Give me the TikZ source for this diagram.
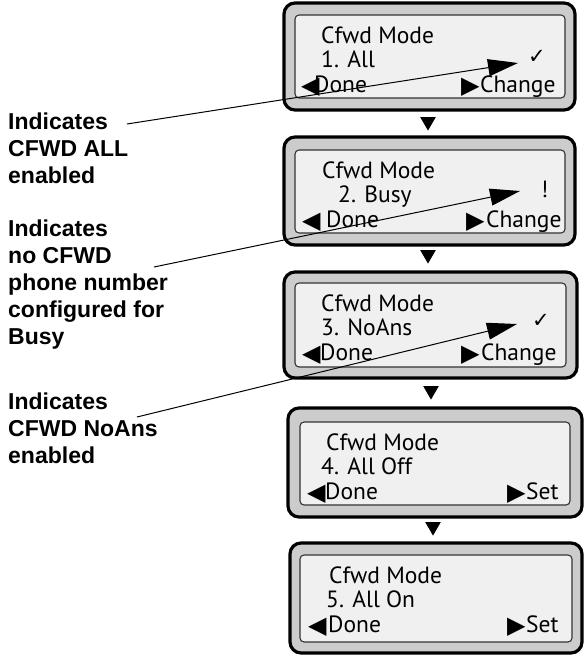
\documentclass[tikz,border=0pt]{standalone}
\usepackage{fontspec}
\setmainfont{PT Sans}
\newfontfamily\notefont{Liberation Sans}
\newfontfamily\symfont{DejaVu Sans}
\usetikzlibrary{arrows.meta,shapes.geometric}

\begin{document}
\begin{tikzpicture}[x=1pt,y=-1pt,
  frame/.style={draw=black, line width=3.2pt, fill=black!20, rounded corners=11pt,
    inner sep=0, outer sep=0},
  lcd/.style={draw=black!80, line width=1.1pt, fill=black!6, rounded corners=4pt,
    inner sep=0, outer sep=0},
  scr/.style={anchor=base west, inner sep=0, font=\fontsize{23.5}{25}\selectfont},
  key/.style={anchor=base west, inner sep=0, font=\symfont\fontsize{24}{24}\selectfont},
  indic/.style={anchor=base west, inner sep=0, font=\symfont\fontsize{21}{21}\selectfont},
  note/.style={anchor=base west, inner sep=0, align=left,
    font=\notefont\bfseries\fontsize{23}{27}\selectfont},
  callout/.style={line width=1pt, -{Triangle[length=30pt,width=17pt]}},
  nextstep/.style={fill=black, regular polygon, regular polygon sides=3,
    shape border rotate=180, minimum size=18pt, inner sep=0, outer sep=0}]
\useasboundingbox (0,0) rectangle (584,657);

% display frames and LCD panels
\node[frame, minimum width=291pt, minimum height=107pt] (f1) at (429.5,56.5) {};
\node[lcd, minimum width=270pt, minimum height=83pt] (p1) at (430,56.5) {};
\node[frame, minimum width=291pt, minimum height=108pt] (f2) at (429.5,191) {};
\node[lcd, minimum width=270pt, minimum height=83pt] (p2) at (430,191.5) {};
\node[frame, minimum width=293pt, minimum height=106pt] (f3) at (430.5,325) {};
\node[lcd, minimum width=271pt, minimum height=84pt] (p3) at (430.5,325) {};
\node[frame, minimum width=294pt, minimum height=109pt] (f4) at (435,462.5) {};
\node[lcd, minimum width=270pt, minimum height=83pt] (p4) at (435,463.5) {};
\node[frame, minimum width=292pt, minimum height=110pt] (f5) at (436,598) {};
\node[lcd, minimum width=272pt, minimum height=87pt] (p5) at (436,598.5) {};

% step markers between displays
\node[nextstep] (n12) at (428,121.6) {};
\node[nextstep] (n23) at (428,254.6) {};
\node[nextstep] (n34) at (431,390.6) {};
\node[nextstep] (n45) at (433,526.6) {};

% display 1
\node[scr] (a1) at (321,43) {Cfwd Mode};
\node[scr] (a2) at (321,67) {1. All};
\node[key] (a3) at (301,93) {◀};
\node[scr] (a4) at (314,92) {Done};
\node[key] (a5) at (461,93) {▶};
\node[scr] (a6) at (480,92) {Change};
\node[indic] (i1) at (528,63) {✓};

% display 2
\node[scr] (b1) at (322,178) {Cfwd Mode};
\node[scr] (b2) at (338,202) {2. Busy};
\node[key] (b3) at (302,228) {◀};
\node[scr] (b4) at (326,227) {Done};
\node[key] (b5) at (466,228) {▶};
\node[scr] (b6) at (486,227) {Change};
\node[scr] (i2) at (541,197) {!};

% display 3
\node[scr] (c1) at (321,311) {Cfwd Mode};
\node[scr] (c2) at (321,335) {3. NoAns};
\node[key] (c3) at (302,361) {◀};
\node[scr] (c4) at (320,360) {Done};
\node[key] (c5) at (461,361) {▶};
\node[scr] (c6) at (481,360) {Change};
\node[indic] (i3) at (532,327) {✓};

% display 4
\node[scr] (d1) at (326,450) {Cfwd Mode};
\node[scr] (d2) at (321,474) {4. All Off};
\node[key] (d3) at (307,500) {◀};
\node[scr] (d4) at (325,499) {Done};
\node[key] (d5) at (507,500) {▶};
\node[scr] (d6) at (526,499) {Set};

% display 5
\node[scr] (e1) at (329,583) {Cfwd Mode};
\node[scr] (e2) at (326,607) {5. All On};
\node[key] (e3) at (308,633) {◀};
\node[scr] (e4) at (328,632) {Done};
\node[key] (e5) at (507,633) {▶};
\node[scr] (e6) at (526,632) {Set};

% explanatory notes (anchored on the baseline of their last line)
\node[note] (m1) at (8,183) {Indicates\\CFWD ALL\\enabled};
\node[note] (m2) at (8,344) {Indicates\\no CFWD\\phone number\\configured for\\Busy};
\node[note] (m3) at (8,463) {Indicates\\CFWD NoAns\\enabled};

\coordinate (s1) at (127,124);
\coordinate (s2) at (154,267);
\coordinate (s3) at (137,417);

\draw[callout] (s1) -- ([xshift=-10pt]i1.base west);
\draw[callout] (s2) -- ([shift={(-21,-6)}]i2.base west);
\draw[callout] (s3) -- ([shift={(-15,-3)}]i3.base west);
\end{tikzpicture}
\end{document}
